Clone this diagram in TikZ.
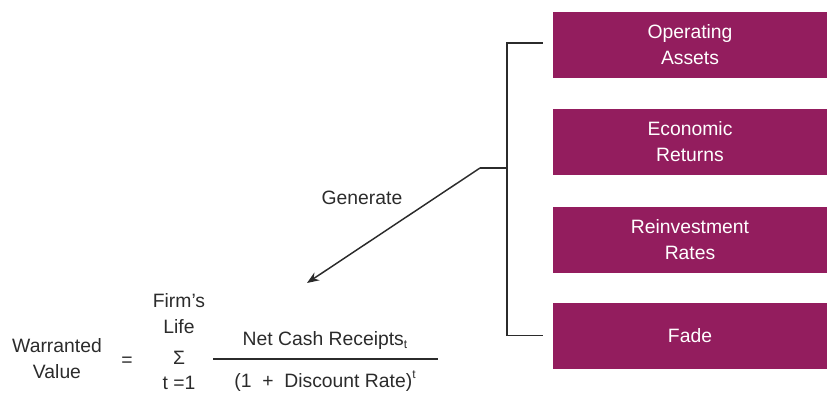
\documentclass[tikz,border=0pt]{standalone}
\usepackage{fontspec}
\setmainfont{Liberation Sans}
\usepackage{xcolor}
\usetikzlibrary{arrows.meta,positioning}
\definecolor{plum}{HTML}{931D5E}
\definecolor{ink}{HTML}{2B2B2B}
\tikzset{
  driver/.style={fill=plum,text=white,minimum width=205.5pt,minimum height=49.5pt,inner sep=0pt,align=center,font=\fontsize{14.5}{19.5}\selectfont},
  label/.style={text=ink,align=center,inner sep=0pt,font=\fontsize{14.5}{19.5}\selectfont},
  bracket/.style={draw=ink,line width=1.1pt},
  flow/.style={-{Stealth[length=9pt,width=7pt]},line width=1.1pt,draw=ink}
}
\newcommand{\lowt}{\raisebox{-0.35ex}{\fontsize{9}{9}\selectfont t}}
\newcommand{\hight}{\raisebox{0.9ex}{\fontsize{9}{9}\selectfont t}}
\begin{document}
\begin{tikzpicture}[x=0.75pt,y=-0.75pt]
    \useasboundingbox (0,0) rectangle (827,393);
    % value drivers
    \node[driver] (assets) at (690,45) {Operating\\Assets};
    \node[driver] (returns) at (690,142) {Economic\\Returns};
    \node[driver] (reinvest) at (690,240) {Reinvestment\\Rates};
    \node[driver] (fade) at (690,335.5) {Fade};

    \coordinate (spine) at (507,168);
    \coordinate (knee) at (480,168);
    \coordinate (tip) at (307,283);
    \draw[bracket] ([xshift=-7.5pt]assets.west |- 0,43) -| (spine) |- ([xshift=-7.5pt]fade.west);
    \draw[bracket] (spine) -- (knee);
    \draw[flow] (knee) -- (tip);
    \node[label] (gen) at (362,198) {Generate};

    % valuation formula
    \node[label] (warr) at (57,358.5) {Warranted\\Value};
    \node[label] (eq) at (127,362) {=};
    \node[label] (life) at (179,313.5) {Firm’s\\Life};
    \node[label] (sigma) at (179,358) {Σ};
    \node[label] (start) at (179,383) {t =1};
    \coordinate (barL) at (213,359);
    \coordinate (barR) at (438,359);
    \draw[line width=1.3pt,draw=ink] (barL) -- (barR);
    \node[label] (num) at (325,340) {Net Cash Receipts\lowt};
    \node[label] (den) at (325,381) {(1 \ + \ Discount Rate)\hight};
\end{tikzpicture}
\end{document}
